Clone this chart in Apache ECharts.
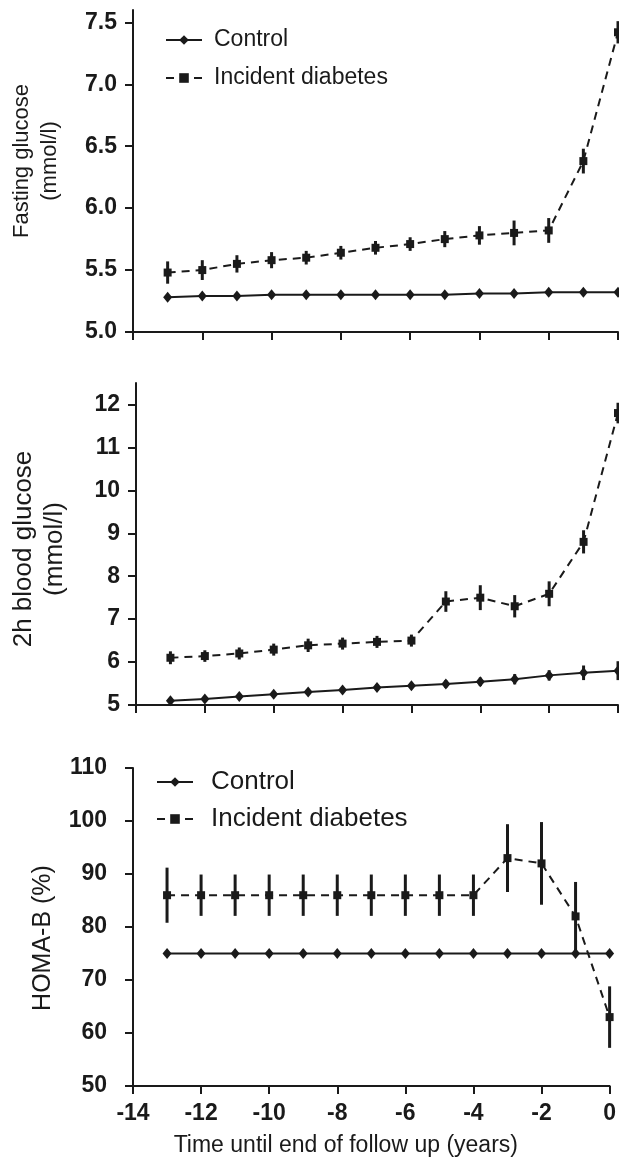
<!DOCTYPE html>
<html>
<head>
<meta charset="utf-8">
<script src="https://cdn.jsdelivr.net/npm/echarts@6/dist/echarts.min.js"></script>
<style>
  html, body { margin: 0; padding: 0; background: #fff; }
  #chart { width: 619px; height: 1163px; }
</style>
</head>
<body>
<div id="chart"></div>
<script>
// data
var years = [-13, -12, -11, -10, -9, -8, -7, -6, -5, -4, -3, -2, -1, 0];
var xTicks = [-14, -12, -10, -8, -6, -4, -2, 0];

// fasting glucose (mmol/l)
var fastingControl = [5.28, 5.29, 5.29, 5.30, 5.30, 5.30, 5.30, 5.30, 5.30, 5.31, 5.31, 5.32, 5.32, 5.32];
var fastingIncident = [5.48, 5.50, 5.55, 5.58, 5.60, 5.64, 5.68, 5.71, 5.75, 5.78, 5.80, 5.82, 6.38, 7.42];
var fastingIncidentErr = [0.09, 0.08, 0.07, 0.065, 0.055, 0.055, 0.055, 0.055, 0.065, 0.075, 0.1, 0.1, 0.1, 0.09];
var fastingTicks = [5.0, 5.5, 6.0, 6.5, 7.0, 7.5];

// 2h blood glucose (mmol/l)
var ogttControl = [5.10, 5.14, 5.20, 5.25, 5.30, 5.35, 5.41, 5.45, 5.49, 5.54, 5.60, 5.69, 5.75, 5.80];
var ogttControlErr = [0.04, 0.04, 0.05, 0.05, 0.06, 0.06, 0.07, 0.08, 0.09, 0.1, 0.12, 0.12, 0.17, 0.22];
var ogttIncident = [6.10, 6.14, 6.20, 6.29, 6.39, 6.43, 6.47, 6.50, 7.41, 7.50, 7.30, 7.59, 8.80, 11.80];
var ogttIncidentErr = [0.15, 0.135, 0.14, 0.14, 0.155, 0.14, 0.14, 0.14, 0.24, 0.29, 0.26, 0.29, 0.27, 0.24];
var ogttTicks = [5, 6, 7, 8, 9, 10, 11, 12];

// HOMA-B (%)
var homaControl = [75, 75, 75, 75, 75, 75, 75, 75, 75, 75, 75, 75, 75, 75];
var homaIncident = [86, 86, 86, 86, 86, 86, 86, 86, 86, 86, 93, 92, 82, 63];
var homaIncidentErr = [5.2, 3.9, 3.9, 3.9, 3.9, 3.9, 3.9, 3.9, 3.9, 3.9, 6.4, 7.8, 6.5, 5.8];

var ink = "#1a1a1a";
var font = "'Liberation Sans', Arial, Helvetica, sans-serif";

function pairs(vals) {
  return years.map(function (y, i) { return [y, vals[i]]; });
}
function bars(vals, errs) {
  return years.map(function (y, i) { return [y, vals[i] - errs[i], vals[i] + errs[i]]; });
}

// 误差线
function errSeries(idx, vals, errs) {
  return {
    type: "custom",
    xAxisIndex: idx,
    yAxisIndex: idx,
    z: 1,
    silent: true,
    encode: { x: 0, y: [1, 2] },
    data: bars(vals, errs),
    renderItem: function (params, api) {
      var p1 = api.coord([api.value(0), api.value(1)]);
      var p2 = api.coord([api.value(0), api.value(2)]);
      return {
        type: "line",
        shape: { x1: p1[0], y1: p1[1], x2: p2[0], y2: p2[1] },
        style: { stroke: ink, lineWidth: 3 }
      };
    }
  };
}

function controlSeries(idx, vals) {
  return {
    name: "Control",
    type: "line",
    xAxisIndex: idx,
    yAxisIndex: idx,
    z: 3,
    data: pairs(vals),
    symbol: "diamond",
    symbolSize: [9, 11],
    showAllSymbol: true,
    itemStyle: { color: ink },
    lineStyle: { color: ink, width: 2 }
  };
}

function incidentSeries(idx, vals) {
  return {
    name: "Incident diabetes",
    type: "line",
    xAxisIndex: idx,
    yAxisIndex: idx,
    z: 3,
    data: pairs(vals),
    symbol: "rect",
    symbolSize: 8,
    showAllSymbol: true,
    itemStyle: { color: ink },
    lineStyle: { color: ink, width: 2, type: [8, 6] }
  };
}

function xAxisFor(idx, showLabels) {
  return {
    type: "value",
    gridIndex: idx,
    min: -14,
    max: 0,
    interval: 2,
    splitLine: { show: false },
    axisLine: { onZero: false, lineStyle: { color: ink, width: 2 } },
    axisTick: { show: true, length: 8, lineStyle: { color: ink, width: 2 } },
    axisLabel: {
      show: showLabels,
      color: ink,
      fontFamily: font,
      fontWeight: "bold",
      fontSize: 23,
      margin: 16,
      formatter: function (v) { return String(v); }
    }
  };
}

function yLine() {
  return { show: true, onZero: false, lineStyle: { color: ink, width: 2 } };
}

var myChart = echarts.init(document.getElementById("chart"), null, { renderer: "canvas" });
var option = {
  animation: false,
  backgroundColor: "#fff",
  grid: [
    { left: 133, right: 1, top: 10, height: 322 },
    { left: 133, right: 1, top: 383, height: 322 },
    { left: 133, right: 9, top: 768, height: 318 }
  ],
  legend: [
    {
      left: 165, top: 27, orient: "vertical", padding: 0,
      itemWidth: 36, itemHeight: 12, itemGap: 12,
      data: ["Control", "Incident diabetes"],
      textStyle: { color: ink, fontFamily: font, fontSize: 23, lineHeight: 26, padding: [0, 0, 0, 7] }
    },
    {
      left: 156, top: 768, orient: "vertical", padding: 0,
      itemWidth: 36, itemHeight: 12, itemGap: 9,
      data: ["Control", "Incident diabetes"],
      textStyle: { color: ink, fontFamily: font, fontSize: 26, lineHeight: 28, padding: [0, 0, 0, 13] }
    }
  ],
  xAxis: [
    xAxisFor(0, false),
    xAxisFor(1, false),
    Object.assign(xAxisFor(2, true), {
      name: "Time until end of follow up (years)",
      nameLocation: "middle",
      nameGap: 48,
      nameTextStyle: { color: ink, fontFamily: font, fontSize: 23, padding: [0, 51, 0, 0] }
    })
  ],
  yAxis: [
    {
      type: "value", gridIndex: 0, min: 5, max: 7.6,
      name: "Fasting glucose\n(mmol/l)", nameLocation: "middle", nameRotate: 90, nameGap: 69,
      nameTextStyle: { color: ink, fontFamily: font, fontSize: 22, lineHeight: 28, padding: [0, 0, 0, 20] },
      splitLine: { show: false },
      axisLine: yLine(),
      axisTick: { show: true, length: 8, customValues: fastingTicks, lineStyle: { color: ink, width: 2 } },
      axisLabel: {
        customValues: fastingTicks, color: ink, fontFamily: font, fontWeight: "bold", fontSize: 23, margin: 16,
        formatter: function (v) { return v.toFixed(1); }
      }
    },
    {
      type: "value", gridIndex: 1, min: 5, max: 12.5,
      name: "2h blood glucose\n(mmol/l)", nameLocation: "middle", nameRotate: 90, nameGap: 66,
      nameTextStyle: { color: ink, fontFamily: font, fontSize: 26, lineHeight: 31, padding: [0, 10, 0, 0] },
      splitLine: { show: false },
      axisLine: yLine(),
      axisTick: { show: true, length: 8, customValues: ogttTicks, lineStyle: { color: ink, width: 2 } },
      axisLabel: {
        customValues: ogttTicks, color: ink, fontFamily: font, fontWeight: "bold", fontSize: 23, margin: 16
      }
    },
    {
      type: "value", gridIndex: 2, min: 50, max: 110, interval: 10,
      name: "HOMA-B (%)", nameLocation: "middle", nameRotate: 90, nameGap: 74,
      nameTextStyle: { color: ink, fontFamily: font, fontSize: 25, lineHeight: 30, padding: [0, 22, 0, 0] },
      splitLine: { show: false },
      axisLine: yLine(),
      axisTick: { show: true, length: 8, lineStyle: { color: ink, width: 2 } },
      axisLabel: { color: ink, fontFamily: font, fontWeight: "bold", fontSize: 23, margin: 26 }
    }
  ],
  series: [
    errSeries(0, fastingIncident, fastingIncidentErr),
    controlSeries(0, fastingControl),
    incidentSeries(0, fastingIncident),

    errSeries(1, ogttControl, ogttControlErr),
    errSeries(1, ogttIncident, ogttIncidentErr),
    controlSeries(1, ogttControl),
    incidentSeries(1, ogttIncident),

    errSeries(2, homaIncident, homaIncidentErr),
    controlSeries(2, homaControl),
    incidentSeries(2, homaIncident)
  ]
};
myChart.setOption(option);
window.addEventListener("resize", function () {
  myChart.resize();
});
</script>
</body>
</html>
